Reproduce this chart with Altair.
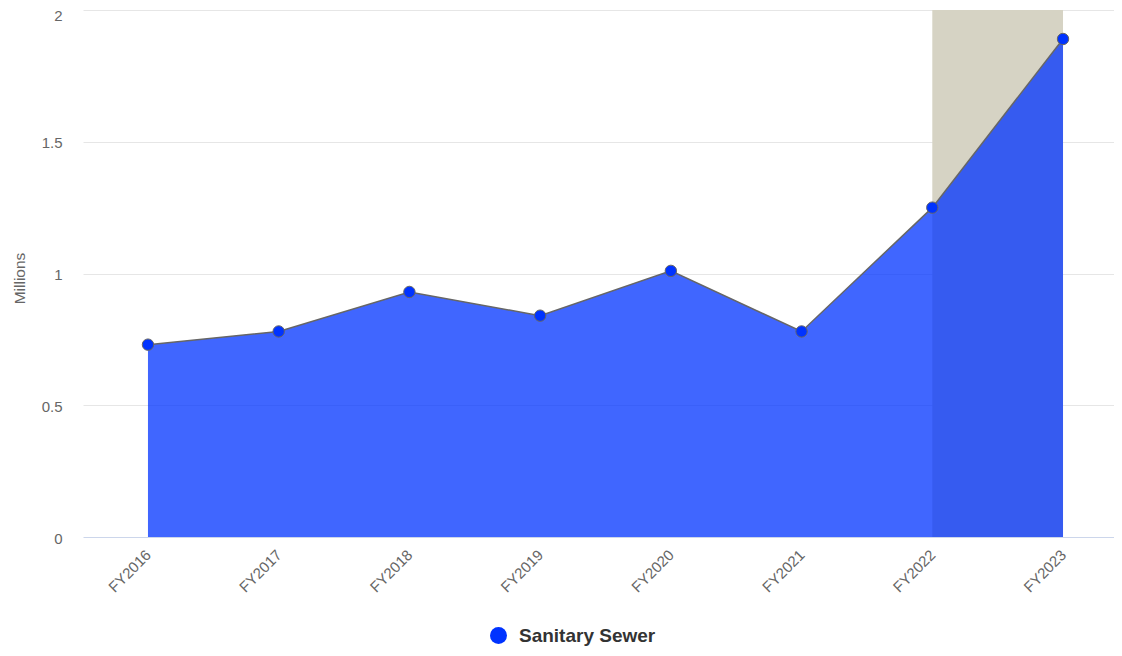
import altair as alt
import pandas as pd

categories = ["FY2016", "FY2017", "FY2018", "FY2019", "FY2020", "FY2021", "FY2022", "FY2023"]
values = [0.73, 0.78, 0.93, 0.84, 1.01, 0.78, 1.25, 1.89]
series_name = "Sanitary Sewer"
band_from = "FY2022"
band_to = "FY2023"
y_ticks = [0, 0.5, 1, 1.5, 2]

df = pd.DataFrame({
    "idx": list(range(len(categories))),
    "cat": categories,
    "value": values,
    "series": [series_name] * len(categories),
})
band_df = pd.DataFrame({
    "x": [categories.index(band_from)],
    "x2": [categories.index(band_to)],
    "y": [y_ticks[0]],
    "y2": [y_ticks[-1]],
})

label_expr = "[" + ",".join("'%s'" % c for c in categories) + "][datum.value]"

FONT = "Liberation Sans"
xscale = alt.Scale(domain=[-0.497, len(categories) - 1 + 0.39], nice=False, zero=False)
yscale = alt.Scale(domain=[y_ticks[0], y_ticks[-1]], nice=False)

x_axis = alt.Axis(
    values=list(range(len(categories))), labelExpr=label_expr, labelAngle=-45,
    labelAlign="right", labelBaseline="middle", labelPadding=15, ticks=False, tickSize=0,
    domainColor="#ccd6eb", domainWidth=1, grid=False, title=None, labelFontSize=15,
    labelColor="#666666", labelFont=FONT, labelOverlap=False,
)
y_axis = alt.Axis(
    values=y_ticks, format="~g", grid=True, gridColor="#e6e6e6", gridWidth=1,
    gridOpacity=alt.ExprRef(expr="datum.value == 0 ? 0 : 1"),
    domain=False, ticks=False, tickSize=0, labelPadding=21, labelFontSize=15,
    labelColor="#666666", labelFont=FONT,
    labelOffset=alt.ExprRef(expr="datum.value == 2 ? 5 : 1"),
    title="Millions", titleFontWeight="normal", titleFontSize=15.5, titleColor="#666666",
    titleFont=FONT, titleX=-59, titleY=268, titleBaseline="alphabetic",
)

band = alt.Chart(band_df).mark_rect(color="#D6D3C4").encode(
    x=alt.X("x:Q", scale=xscale, axis=x_axis),
    x2="x2:Q",
    y=alt.Y("y:Q", scale=yscale, axis=y_axis),
    y2="y2:Q",
)

base = alt.Chart(df).encode(
    x=alt.X("idx:Q", scale=xscale, axis=x_axis),
    y=alt.Y("value:Q", scale=yscale, axis=y_axis),
)

area = base.mark_area(color="#0033FF", opacity=0.75)
line = base.mark_line(color="#666666", strokeWidth=1.5)
points = base.mark_point(filled=True, size=130, stroke="#666666", strokeWidth=1, opacity=1).encode(
    color=alt.Color(
        "series:N",
        scale=alt.Scale(domain=[series_name], range=["#0033FF"]),
        legend=alt.Legend(
            orient="none", legendX=406, legendY=616, title=None, padding=0,
            labelFontSize=19, labelFontWeight="bold", labelColor="#333333", labelFont=FONT,
            symbolType="circle", symbolSize=289, symbolStrokeWidth=0, symbolFillColor="#0033FF",
            symbolOpacity=1, labelOffset=11,
        ),
    )
)

chart = alt.layer(band, area, line, points).properties(
    width=1031, height=527,
    background="white",
    autosize=alt.AutoSizeParams(type="none"),
    padding={"left": 75, "top": 2, "right": 0, "bottom": 109},
).configure_view(strokeWidth=0, stroke="transparent")

chart.save("out.html", embed_options={"renderer": "svg", "actions": False})
